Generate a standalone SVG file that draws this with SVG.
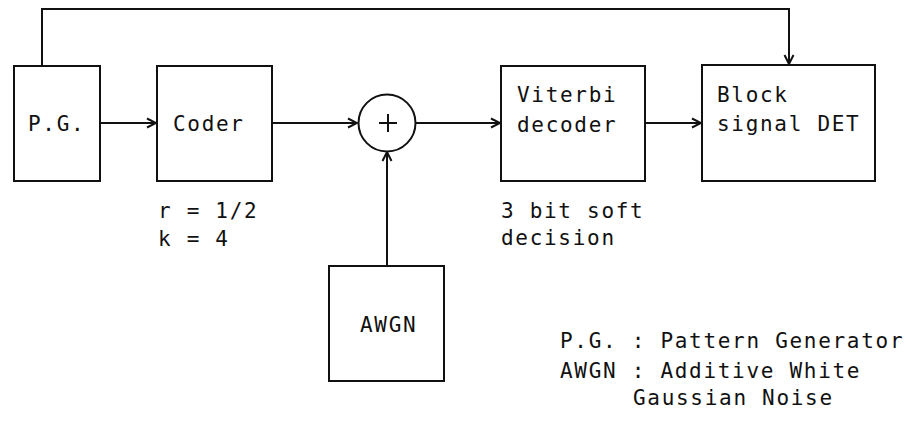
<svg xmlns="http://www.w3.org/2000/svg" width="906" height="422" viewBox="0 0 906 422">
<style>
.box{fill:#fff;stroke:#111;stroke-width:2}
.ln{fill:none;stroke:#111;stroke-width:2}
text{font-family:"DejaVu Sans Mono","Liberation Mono",monospace;font-size:21px;letter-spacing:1.7px;fill:#111}
</style>
<defs>
<marker id="ah" markerUnits="userSpaceOnUse" markerWidth="14" markerHeight="14" viewBox="-12 -7 14 14" refX="0" refY="0" orient="auto">
<path d="M-9,-4.5 L0,0 L-9,4.5" fill="none" stroke="#111" stroke-width="2"/>
</marker>
</defs>
<rect width="906" height="422" fill="#fff"/>
<g id="connectors">
<polyline class="ln" points="42,66 42,9 789,9 789,64" marker-end="url(#ah)"/>
<line class="ln" x1="100" y1="123" x2="156" y2="123" marker-end="url(#ah)"/>
<line class="ln" x1="272" y1="123" x2="357" y2="123" marker-end="url(#ah)"/>
<line class="ln" x1="416" y1="123" x2="500" y2="123" marker-end="url(#ah)"/>
<line class="ln" x1="645" y1="123" x2="701" y2="123" marker-end="url(#ah)"/>
<line class="ln" x1="387" y1="266" x2="387" y2="152" marker-end="url(#ah)"/>
</g>
<g id="pg">
<rect class="box" x="14" y="66" width="86" height="115"/>
<text x="28" y="131">P.G.</text>
</g>
<g id="coder">
<rect class="box" x="157" y="66" width="115" height="115"/>
<text x="173" y="131">Coder</text>
</g>
<g id="adder">
<circle class="box" cx="387" cy="123" r="28.5"/>
<path class="ln" d="M379,123 H397 M388,114 V132"/>
</g>
<g id="viterbi">
<rect class="box" x="501" y="66" width="144" height="115"/>
<text x="517" y="102">Viterbi</text>
<text x="517" y="132">decoder</text>
</g>
<g id="block">
<rect class="box" x="702" y="65" width="173" height="116"/>
<text x="717" y="102">Block</text>
<text x="717" y="131">signal DET</text>
</g>
<g id="awgn">
<rect class="box" x="329" y="266" width="115" height="115"/>
<text x="360" y="332">AWGN</text>
</g>
<g id="labels">
<text x="158" y="218">r = 1/2</text>
<text x="158" y="246">k = 4</text>
<text x="501" y="218">3 bit soft</text>
<text x="501" y="245">decision</text>
<text x="560" y="348">P.G. : Pattern Generator</text>
<text x="560" y="378">AWGN : Additive White</text>
<text x="633" y="405">Gaussian Noise</text>
</g>
</svg>
